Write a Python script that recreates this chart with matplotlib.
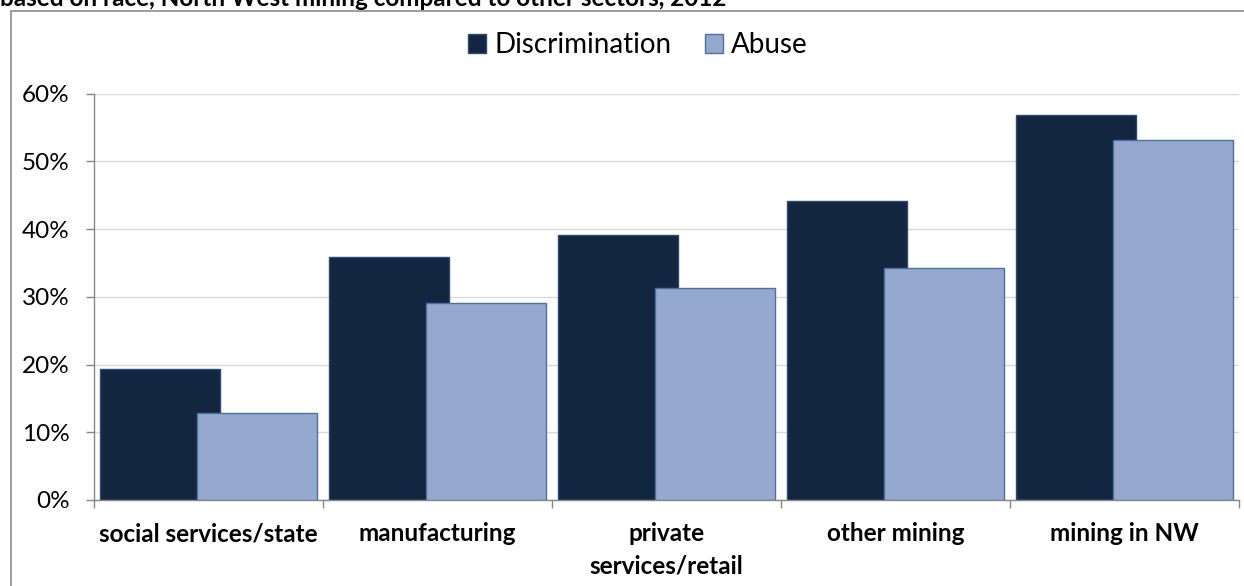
import matplotlib
matplotlib.use("Agg")
import matplotlib.pyplot as plt
from matplotlib.patches import Rectangle
from matplotlib.ticker import FuncFormatter, MultipleLocator
import numpy as np

plt.rcParams['font.family'] = ['Lato', 'DejaVu Sans']

categories = ["social services/state", "manufacturing", "private\nservices/retail",
              "other mining", "mining in NW"]
discrimination = [19.4, 35.9, 39.1, 44.2, 56.8]
abuse = [12.8, 29.1, 31.3, 34.3, 53.2]
title = "based on race, North West mining compared to other sectors, 2012"

W, H = 1244, 586
fig = plt.figure(figsize=(W / 100, H / 100), dpi=100)

# outer chart frame (open to the right and bottom)
fig.patches.append(Rectangle((11 / W, -0.1), 1.2, 1 - 11 / H + 0.1,
                             transform=fig.transFigure, fill=False,
                             edgecolor="#8c8c8c", linewidth=1.2, zorder=0))

fig.text(0.0, 1 - 6.5 / H, title, fontsize=17.5, fontweight="bold",
         ha="left", va="baseline", color="black")

ax = fig.add_axes([94 / W, (H - 500) / H, (1239 - 94) / W, (500 - 93.7) / H])

x = np.arange(len(categories))
bw = 0.524
off = 0.212
ax.bar(x - off, discrimination, width=bw, color="#12263f", edgecolor="#2c4a76",
       linewidth=1.0, label="Discrimination", zorder=2)
ax.bar(x + off, abuse, width=bw, color="#95a9cf", edgecolor="#4c70a0",
       linewidth=1.0, label="Abuse", zorder=3)

ax.set_xlim(-0.5, len(categories) - 0.5)
ax.set_ylim(0, 60)
ax.yaxis.set_major_locator(MultipleLocator(10))
ax.yaxis.set_major_formatter(FuncFormatter(lambda v, p: f"{v:.0f}%"))
ax.grid(axis="y", color="#d9d9d9", linewidth=1.0, zorder=0)
ax.set_axisbelow(True)

ax.set_xticks(x)
ax.set_xticklabels(categories, fontsize=17.5, fontweight="bold", linespacing=1.5,
                   va="top")
ax.tick_params(axis="x", which="major", length=0, pad=16)
ax.set_xticks(np.arange(len(categories) + 1) - 0.5, minor=True)
ax.tick_params(axis="x", which="minor", length=6, color="#868686", width=1)
ax.tick_params(axis="y", length=6, color="#868686", width=1, labelsize=17.5, pad=11.5)

for s in ["top", "right"]:
    ax.spines[s].set_visible(False)
for s in ["left", "bottom"]:
    ax.spines[s].set_color("#868686")
    ax.spines[s].set_linewidth(1.0)

leg = fig.legend(loc="center", bbox_to_anchor=(638 / W, 1 - 45 / H), ncol=2,
                 frameon=False, fontsize=20, handlelength=0.65, handleheight=0.65,
                 handletextpad=0.3, columnspacing=1.2)

fig.savefig("out.png", dpi=100)
